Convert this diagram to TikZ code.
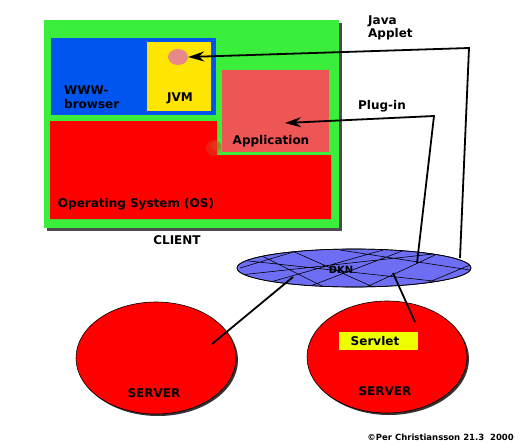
\documentclass[tikz,border=0pt]{standalone}
\usepackage{fontspec}
\setmainfont{DejaVu Sans}
\usetikzlibrary{shapes.geometric,arrows.meta}
\definecolor{cgreen}{HTML}{3CEE3C}
\definecolor{cblue}{HTML}{0055EE}
\definecolor{cyellow}{HTML}{FFE600}
\definecolor{capp}{HTML}{EE5555}
\definecolor{cpink}{HTML}{E88888}
\definecolor{cdkn}{HTML}{6E6EF5}
\definecolor{cservlet}{HTML}{EEFF00}
\tikzset{
  box/.style={draw=none,inner sep=0pt,anchor=north west},
  lbl/.style={font=\bfseries\fontsize{12}{13.5}\selectfont,inner sep=0pt},
  conn/.style={line width=1.8pt,black},
  srv/.style={ellipse,fill=red,draw=black,line width=0.6pt,inner sep=0pt,minimum width=160pt,minimum height=112pt},
}
\begin{document}
\begin{tikzpicture}[x=1pt,y=-1pt]
\useasboundingbox (0,0) rectangle (520,445);
% client green box with shadow
\fill[black!70] (47,23) rectangle (342,231);
\node[box,fill=cgreen,minimum width=295pt,minimum height=208pt] (client) at (44,20) {};
\node[box,fill=cblue,minimum width=165pt,minimum height=77pt] (browser) at (51,38) {};
\node[box,fill=cyellow,minimum width=64pt,minimum height=69pt] (jvm) at (147,42) {};
\node[ellipse,fill=cpink,minimum width=20pt,minimum height=16pt,inner sep=0pt] (applet) at (178,57) {};
\fill[red] (50,121) -- (217,121) -- (217,155) -- (331,155) -- (331,219) -- (50,219) -- cycle;
\node[box,fill=capp,minimum width=107pt,minimum height=82pt] (app) at (222,70) {};
\fill[brown!70!red,opacity=0.35] (214,148) circle (8pt);
\fill[brown!60!red,opacity=0.45] (216,146) circle (5pt);
\node[lbl,align=left,anchor=west] (wwwlbl) at (64,97) {WWW-\\browser};
\node[lbl] (jvmlbl) at (180,98) {JVM};
\node[lbl] (applbl) at (271,141) {Application};
\node[lbl] (oslbl) at (136,204) {Operating System (OS)};
\node[lbl] (clientlbl) at (177,240) {CLIENT};
\node[lbl,align=left,anchor=west] (javalbl) at (368,28) {Java\\Applet};
\node[lbl] (pluglbl) at (382,106) {Plug-in};
% DKN network ellipse
\node[ellipse,fill=cdkn,draw=black,line width=0.6pt,minimum width=234pt,minimum height=38pt,inner sep=0pt] (dkn) at (354,268) {};
\begin{scope}
\clip (354,268) ellipse [x radius=117, y radius=19];
\draw[black,line width=0.6pt]
  (240,260) -- (470,285)
  (240,275) -- (470,250)
  (250,250) -- (330,290)
  (290,250) -- (380,290)
  (300,290) -- (410,248)
  (360,290) -- (450,248)
  (260,285) -- (390,248)
  (340,250) -- (470,270)
  (240,268) -- (300,250)
  (410,290) -- (470,265);
\end{scope}
\draw[black,line width=0.7pt] (354,268) ellipse [x radius=117, y radius=19];
\node[font=\rmfamily\bfseries\fontsize{10}{11}\selectfont,inner sep=0pt] (dknlbl) at (341,270) {DKN};
% servers
\fill[black!80] (158,360) ellipse [x radius=80, y radius=56];
\node[srv] (srv1) at (156,358) {};
\fill[black!80] (389,359) ellipse [x radius=80, y radius=56];
\node[srv] (srv2) at (387,357) {};
\node[box,fill=cservlet,minimum width=79pt,minimum height=18pt] (servlet) at (339,332) {};
\node[lbl] (servletlbl) at (375,341) {Servlet};
\node[lbl] (srv1lbl) at (154,393) {SERVER};
\node[lbl] (srv2lbl) at (385,391) {SERVER};
\node[lbl,font=\bfseries\fontsize{8.5}{9}\selectfont,anchor=east] (copy) at (514,437) {©Per Christiansson 21.3\ \ 2000};
% connectors
\coordinate (j1) at (460,258);
\coordinate (j2) at (469,48);
\coordinate (p1) at (417,263);
\coordinate (p2) at (434,116);
\coordinate (ptip) at (285,123);
\coordinate (d1) at (293,277);
\coordinate (s1) at (212,344);
\coordinate (d2) at (393,273);
\coordinate (s2) at (415,322);
\draw[conn,-{Stealth[length=16pt,width=10pt]}] (j1) -- (j2) -- (applet.east);
\draw[conn,-{Stealth[length=16pt,width=10pt]}] (p1) -- (p2) -- (ptip);
\draw[conn] (d1) -- (s1);
\draw[conn] (d2) -- (s2);
\end{tikzpicture}
\end{document}
